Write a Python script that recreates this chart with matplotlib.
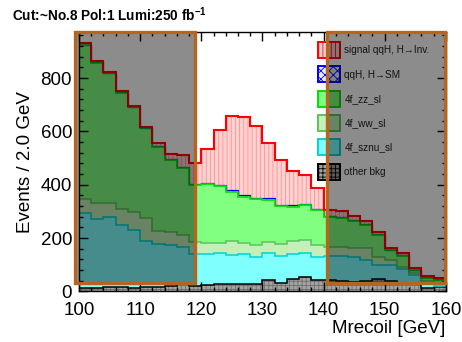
import numpy as np
import matplotlib.pyplot as plt
from matplotlib.patches import Patch, Rectangle
from matplotlib.ticker import MultipleLocator

plt.rcParams['font.family'] = ['Liberation Sans', 'DejaVu Sans']
plt.rcParams['mathtext.fontset'] = 'custom'
plt.rcParams['mathtext.rm'] = 'Liberation Sans'
plt.rcParams['mathtext.bf'] = 'Liberation Sans:bold'
plt.rcParams['hatch.linewidth'] = 0.6

# 2 GeV bins of the recoil mass
edges = np.arange(100, 162, 2)

# events per bin, stacked bottom -> top
other_bkg = [12, 12, 16, 16, 14, 18, 18, 21, 31, 21, 24, 28, 28, 27, 27,
             43, 33, 46, 53, 43, 43, 38, 34, 38, 46, 38, 33, 30, 12, 16]
sznu = [281, 258, 262, 233, 216, 172, 160, 153, 134, 119, 115, 117, 109, 112, 103,
        100, 100, 94, 90, 87, 90, 95, 94, 80, 53, 61, 50, 30, 14, 4]
ww = [52, 60, 52, 59, 69, 84, 50, 50, 47, 45, 42, 38, 53, 44, 44,
      44, 45, 50, 50, 45, 35, 35, 34, 44, 31, 19, 10, 10, 14, 12]
zz = [578, 528, 487, 437, 391, 337, 314, 268, 249, 215, 220, 212, 184, 172, 172,
      156, 142, 128, 131, 130, 112, 106, 103, 87, 82, 37, 40, 10, 12, 11]
qqh_sm = [2, 2, 2, 2, 2, 2, 3, 4, 4, 4, 5, 5, 6, 6, 6,
          6, 5, 5, 5, 5, 4, 4, 4, 4, 4, 2, 2, 2, 2, 2]
signal = [6, 4, 4, 4, 4, 5, 10, 19, 46, 76, 128, 205, 277, 294, 268,
          208, 168, 128, 107, 78, 21, 22, 15, 12, 8, 5, 8, 5, 3, 4]

# cut windows shaded out
cut_windows = [(99.35, 119.0), (140.5, 159.8)]
cut_ymin = 30

# name, values, fill, hatch, hatch colour, line colour, line width
layers = [
    ('other bkg', other_bkg, '#a3a3a3', '++++', '#6e6e6e', 'black', 1.1),
    ('4f_sznu_sl', sznu, '#80ffff', None, '#80ffff', '#00d4d4', 1.1),
    ('4f_ww_sl', ww, '#c2f0b8', None, '#c2f0b8', '#5cc45c', 1.1),
    ('4f_zz_sl', zz, '#80ff80', None, '#80ff80', '#00e000', 1.2),
    ('qqH, H\u2192SM', qqh_sm, '#e8e8ff', 'xxxx', '#4040ff', '#0000ff', 0.9),
    ('signal qqH, H\u2192Inv.', signal, '#ffd2d2', '||||', '#ff9090', '#ff0000', 1.5),
]
# outlines are drawn in this order so the SM Higgs line sits under the zz one
line_order = [0, 1, 2, 4, 3, 5]

fig = plt.figure(figsize=(4.62, 3.42), dpi=100)
ax = fig.add_axes([0.171, 0.148, 0.794, 0.758])

bottom = np.zeros(len(edges) - 1)
tops = []
for name, vals, face, hatch, hcol, line, lw in layers:
    top = bottom + np.array(vals)
    ax.stairs(top, edges, baseline=bottom, fill=True, facecolor=face,
              edgecolor=hcol, hatch=hatch, linewidth=0, zorder=1)
    tops.append(top)
    bottom = top

for i in line_order:
    name, vals, face, hatch, hcol, line, lw = layers[i]
    ax.stairs(tops[i], edges, baseline=None, color=line, lw=lw, zorder=2)

ax.set_xlim(100, 160)
ax.set_ylim(0, 972)

for x0, x1 in cut_windows:
    ax.add_patch(Rectangle((x0, cut_ymin), x1 - x0, 972 - cut_ymin,
                           facecolor=(0, 0, 0, 0.45), edgecolor='#b5651d',
                           lw=2.4, zorder=4, clip_on=False))

handles = [Patch(facecolor=face, edgecolor=line, hatch=hatch, lw=1.4, label=name)
           for name, vals, face, hatch, hcol, line, lw in reversed(layers)]
leg = ax.legend(handles=handles, loc='upper left',
                bbox_to_anchor=(318 / 462, 1 - 42 / 342), bbox_transform=fig.transFigure,
                frameon=False, fontsize=7.2, handlelength=2.15, handleheight=2.1,
                labelspacing=0.82, handletextpad=0.5, borderpad=0, borderaxespad=0)
leg.set_zorder(3)
for t in leg.get_texts():
    t.set_color('#222222')

ax.xaxis.set_major_locator(MultipleLocator(10))
ax.xaxis.set_minor_locator(MultipleLocator(2))
ax.yaxis.set_major_locator(MultipleLocator(200))
ax.yaxis.set_minor_locator(MultipleLocator(40))
ax.tick_params(which='both', direction='in', top=True, right=True, width=1,
               labelsize=13.5)
ax.tick_params(which='major', length=6.5, pad=5)
ax.tick_params(axis='x', which='major', pad=7.5)
ax.tick_params(which='minor', length=3)
for s in ax.spines.values():
    s.set_linewidth(1)

ax.set_xlabel('Mrecoil [GeV]', fontsize=13.5, loc='right', labelpad=1)
ax.set_ylabel('Events / 2.0 GeV', fontsize=13.5, labelpad=5)

fig.text(12 / 462, 1 - 15 / 342, r'Cut:~No.8 Pol:1 Lumi:250 fb$^{\mathbf{-1}}$',
         fontsize=9.8, fontweight='bold', va='center', ha='left')

fig.savefig('out.png', dpi=100)
